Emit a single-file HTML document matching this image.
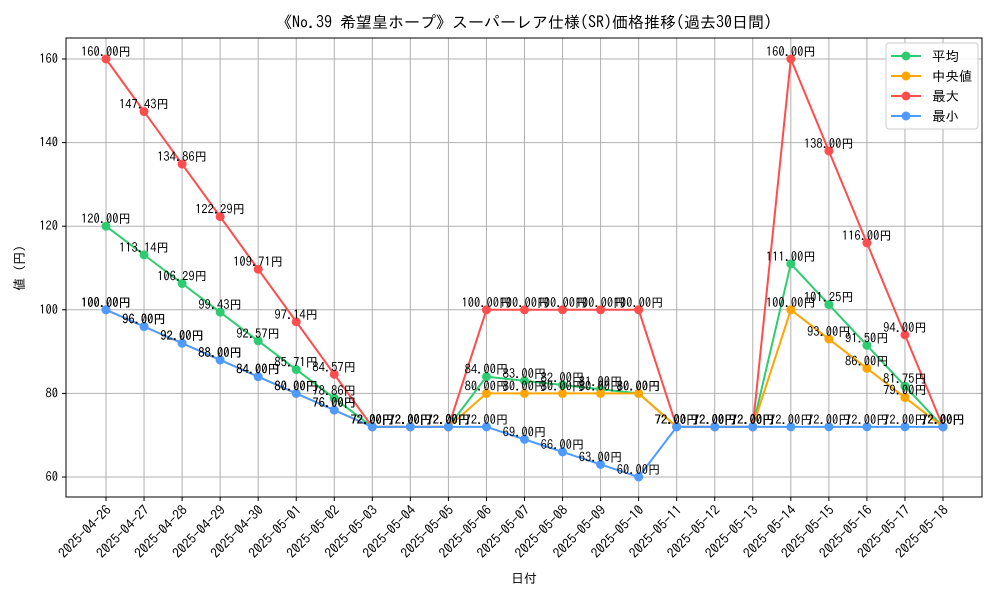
<!DOCTYPE html>
<html><head><meta charset="utf-8"><style>
body{margin:0;background:#fff}
svg{display:block;font-family:"IPAGothic","Liberation Sans","Noto Sans CJK JP",sans-serif}
</style></head><body>
<svg id="chart" width="1000" height="600" viewBox="0 0 1000 600">
<text x="524" y="28" font-size="16" text-anchor="middle">《No.39 希望皇ホープ》スーパーレア仕様(SR)価格推移(過去30日間)</text>
<g id="grid"></g>
<rect x="66" y="38" width="916" height="459" fill="none" stroke="#000" stroke-width="1"/>
<g id="axes"></g>
<g id="series"></g>
<text x="524" y="583" font-size="13" text-anchor="middle">日付</text>
<text transform="translate(24,268) rotate(-90)" font-size="13" text-anchor="middle">値 (円)</text>
<g>
<rect x="886" y="43" width="92" height="86" rx="3" fill="#fff" fill-opacity="0.85" stroke="#ccc"/>
<line x1="891" y1="56" x2="921" y2="56" stroke="#2ecc71" stroke-width="2"/><circle cx="906" cy="56" r="4.5" fill="#2ecc71"/><text x="932" y="61" font-size="13.5">平均</text>
<line x1="891" y1="76" x2="921" y2="76" stroke="#ffa500" stroke-width="2"/><circle cx="906" cy="76" r="4.5" fill="#ffa500"/><text x="932" y="81" font-size="13.5"> 中央値</text>
<line x1="891" y1="96" x2="921" y2="96" stroke="#ff4d4d" stroke-width="2"/><circle cx="906" cy="96" r="4.5" fill="#ff4d4d"/><text x="932" y="101" font-size="13.5">最大</text>
<line x1="891" y1="116" x2="921" y2="116" stroke="#4d9bff" stroke-width="2"/><circle cx="906" cy="116" r="4.5" fill="#4d9bff"/><text x="932" y="121" font-size="13.5">最小</text>
</g>
</svg>
<script>
const dates=["2025-04-26","2025-04-27","2025-04-28","2025-04-29","2025-04-30","2025-05-01","2025-05-02","2025-05-03","2025-05-04","2025-05-05","2025-05-06","2025-05-07","2025-05-08","2025-05-09","2025-05-10","2025-05-11","2025-05-12","2025-05-13","2025-05-14","2025-05-15","2025-05-16","2025-05-17","2025-05-18"];
const avgValues=[120,113.14,106.29,99.43,92.57,85.71,78.86,72,72,72,84,83,82,81,80,72,72,72,111,101.25,91.5,81.75,72];
const medianValues=[100,96,92,88,84,80,76,72,72,72,80,80,80,80,80,72,72,72,100,93,86,79,72];
const maxValues=[160,147.43,134.86,122.29,109.71,97.14,84.57,72,72,72,100,100,100,100,100,72,72,72,160,138,116,94,72];
const minValues=[100,96,92,88,84,80,76,72,72,72,72,69,66,63,60,72,72,72,72,72,72,72,72];
const yTicks=[60,80,100,120,140,160];

const NS="http://www.w3.org/2000/svg";
function X(i){return 106+i*(943-106)/(dates.length-1);}
function Y(v){return 477-(v-60)*(477-59)/100;}
function mk(tag,attrs,parent){const e=document.createElementNS(NS,tag);for(const k in attrs)e.setAttribute(k,attrs[k]);parent.appendChild(e);return e;}
const grid=document.getElementById('grid'),axes=document.getElementById('axes'),ser=document.getElementById('series');
dates.forEach((d,i)=>{
  const g=mk('line',{x1:X(i),x2:X(i),y1:38,y2:497,stroke:'#b0b0b0','stroke-width':1},grid);
  
  
  mk('line',{x1:X(i),x2:X(i),y1:497,y2:501,stroke:'#000'},axes);
  const ax=X(i)+6, ay=511;
  const t=mk('text',{x:ax,y:ay,'font-size':13.5,'text-anchor':'end',transform:`rotate(-45 ${ax} ${ay})`},axes);
  t.textContent=d;
  
  
});
yTicks.forEach(v=>{
  const g=mk('line',{x1:66,x2:982,y1:Y(v),y2:Y(v),stroke:'#b0b0b0','stroke-width':1},grid);
  
  
  mk('line',{x1:62,x2:66,y1:Y(v),y2:Y(v),stroke:'#000'},axes);
  const t=mk('text',{x:58,y:Y(v)+4,'font-size':12.5,'text-anchor':'end'},axes);
  t.textContent=v;
  
  
});
const series=[["avg",avgValues,"#2ecc71"],["median",medianValues,"#ffa500"],["max",maxValues,"#ff4d4d"],["min",minValues,"#4d9bff"]];
series.forEach(([name,vals,col])=>{
  const p=mk('polyline',{points:vals.map((v,i)=>X(i)+','+Y(v)).join(' '),fill:'none',stroke:col,'stroke-width':2},ser);
  
  
  vals.forEach((v,i)=>{
    const c=mk('circle',{cx:X(i),cy:Y(v),r:4.5,fill:col},ser);
    
    
  });
});
series.forEach(([name,vals])=>{
  vals.forEach((v,i)=>{
    const t=mk('text',{x:X(i),y:Y(v)-3,'font-size':12.5,'text-anchor':'middle'},ser);
    t.textContent=v.toFixed(2)+'円';
    
    
  });
});
</script>
</body></html>
